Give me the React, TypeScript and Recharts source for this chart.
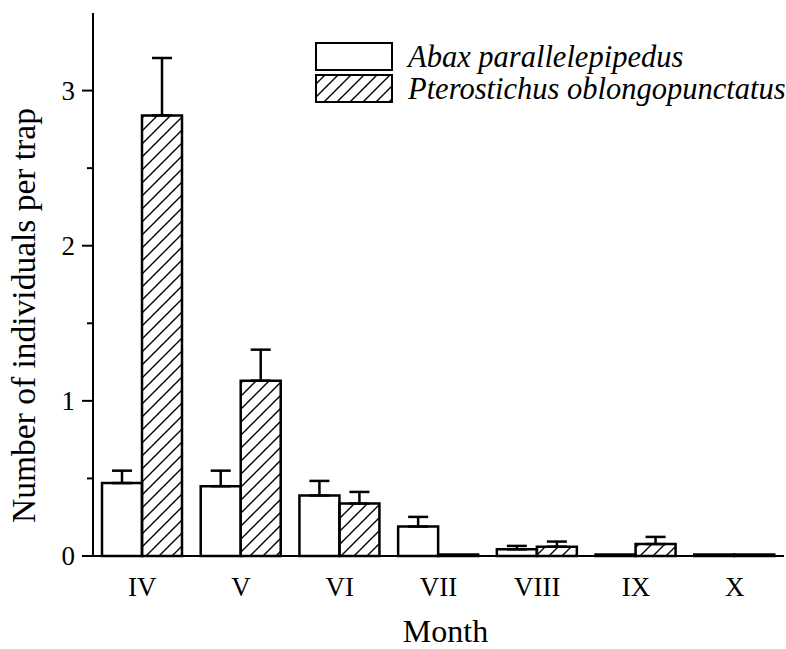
import React from 'react';
import { BarChart, Bar, XAxis, YAxis, ErrorBar, Label } from 'recharts';

// Monthly catches
const months = ['IV', 'V', 'VI', 'VII', 'VIII', 'IX', 'X'];
const abaxMean = [0.47, 0.45, 0.39, 0.19, 0.043, 0.01, 0.01];
const abaxSe = [0.08, 0.1, 0.094, 0.062, 0.022, null, null];
const pteroMean = [2.84, 1.13, 0.338, 0.01, 0.06, 0.077, 0.01];
const pteroSe = [0.37, 0.2, 0.075, null, 0.033, 0.046, null];
const yTicks = [0, 0.5, 1, 1.5, 2, 2.5, 3];

const seriesNames = ['Abax parallelepipedus', 'Pterostichus oblongopunctatus'];

const data = months.map((m, i) => ({
  month: m,
  abax: abaxMean[i],
  abaxErr: abaxSe[i] == null ? null : [0, abaxSe[i]],
  ptero: pteroMean[i],
  pteroErr: pteroSe[i] == null ? null : [0, pteroSe[i]],
}));

const serif = { fontFamily: "'Liberation Serif', 'Times New Roman', serif" };

const YTick = (props: any) => {
  const { x, y, payload } = props;
  const axisX = x + 11 + 7;
  const major = Number.isInteger(payload.value);
  return (
    <g>
      <line x1={axisX - (major ? 11 : 6)} x2={axisX} y1={y} y2={y} stroke="#000" strokeWidth={2} />
      {major && (
        <text x={x} y={y} dy={9} textAnchor="end" style={serif} fontSize={27} fill="#000">
          {payload.value}
        </text>
      )}
    </g>
  );
};

// legend drawn as its own little svg on top of the chart
const LegendBox = () => (
  <svg width={476} height={72} style={{ position: 'absolute', left: 310, top: 38 }}>
    <defs>
      <pattern id="hatchLegend" patternUnits="userSpaceOnUse" width={13} height={13}>
        <path d="M0,13 L13,0 M-3,3 L3,-3 M10,16 L16,10" stroke="#000" strokeWidth={1.4} />
      </pattern>
    </defs>
    <rect x={6} y={5} width={76} height={27} fill="#fff" stroke="#000" strokeWidth={2} />
    <rect x={6} y={37} width={76} height={27} fill="url(#hatchLegend)" stroke="#000" strokeWidth={2} />
    <text x={98} y={29} style={{ ...serif, fontStyle: 'italic' }} fontSize={30.5} fill="#000">
      {seriesNames[0]}
    </text>
    <text x={98} y={61} style={{ ...serif, fontStyle: 'italic' }} fontSize={30.5} fill="#000">
      {seriesNames[1]}
    </text>
  </svg>
);

const App: React.FC = () => {
  return (
    <div style={{ position: 'absolute', left: 0, top: 0, width: 786, height: 649, background: '#fff' }}>
      <BarChart
        width={786}
        height={649}
        data={data}
        margin={{ top: 13, right: 2, bottom: 33, left: 33 }}
        barGap={0}
        barSize={40}
      >
        <defs>
          <pattern id="hatch" patternUnits="userSpaceOnUse" width={13} height={13}>
            <path d="M0,13 L13,0 M-3,3 L3,-3 M10,16 L16,10" stroke="#000" strokeWidth={1.4} />
          </pattern>
        </defs>
        <XAxis
          dataKey="month"
          height={60}
          axisLine={{ stroke: '#000', strokeWidth: 2 }}
          tickLine={false}
          tickMargin={15}
          tick={{ fill: '#000', fontSize: 27, style: serif }}
        >
          <Label
            content={({ viewBox }: any) => (
              <text
                x={viewBox.x + viewBox.width / 2 + 7}
                y={viewBox.y + 86}
                textAnchor="middle"
                style={serif}
                fontSize={32}
                fill="#000"
              >
                Month
              </text>
            )}
          />
        </XAxis>
        <YAxis
          width={60}
          domain={[0, 3.5]}
          ticks={yTicks}
          interval={0}
          tickSize={11}
          tickMargin={7}
          tickLine={false}
          axisLine={{ stroke: '#000', strokeWidth: 2 }}
          tick={<YTick />}
        >
          <Label
            content={({ viewBox }: any) => {
              const cx = viewBox.x + 2;
              const cy = viewBox.y + viewBox.height / 2 + 31;
              return (
                <text
                  x={cx}
                  y={cy}
                  transform={`rotate(-90, ${cx}, ${cy})`}
                  textAnchor="middle"
                  style={serif}
                  fontSize={33.5}
                  fill="#000"
                >
                  Number of individuals per trap
                </text>
              );
            }}
          />
        </YAxis>
        <Bar dataKey="abax" name={seriesNames[0]} fill="#fff" stroke="#000" strokeWidth={2.5} isAnimationActive={false}>
          <ErrorBar dataKey="abaxErr" direction="y" width={10} stroke="#000" strokeWidth={2.5} />
        </Bar>
        <Bar dataKey="ptero" name={seriesNames[1]} fill="url(#hatch)" stroke="#000" strokeWidth={2.5} isAnimationActive={false}>
          <ErrorBar dataKey="pteroErr" direction="y" width={10} stroke="#000" strokeWidth={2.5} />
        </Bar>
      </BarChart>
      <LegendBox />
    </div>
  );
};

export default App;
